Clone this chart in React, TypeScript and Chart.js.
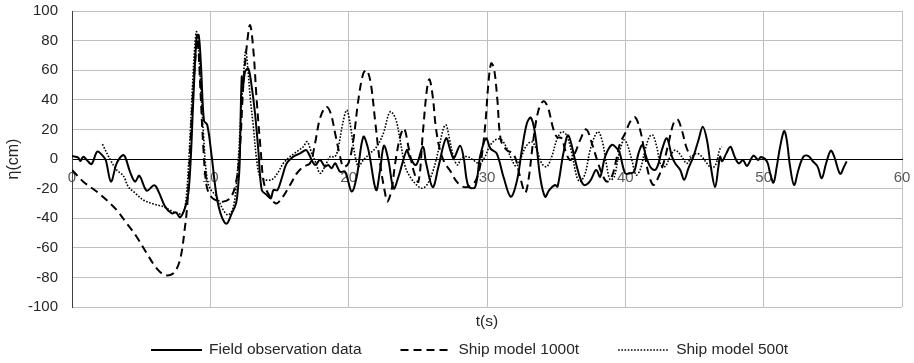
import React, { useEffect, useRef } from 'react';
import { Chart, registerables } from 'chart.js';

Chart.register(...registerables);

// ---- Data ----
const fieldT = [0, 0.45, 0.6, 0.82, 1.1, 1.42, 1.83, 2.27, 2.45, 2.82, 3.23, 3.7, 3.9, 4.19, 4.56, 4.87, 5.4, 5.95, 6.29, 6.72, 7.21, 7.52, 7.81, 8.17, 8.41, 8.58, 8.77, 9.01, 9.16, 9.33, 9.54, 9.78, 10.1, 10.46, 10.82, 11.18, 11.55, 11.86, 12.03, 12.12, 12.27, 12.39, 12.51, 12.75, 12.99, 13.23, 13.47, 13.72, 14.08, 14.37, 14.56, 14.85, 15.16, 15.52, 16.0, 16.49, 16.92, 17.1, 17.57, 17.93, 18.29, 18.53, 18.77, 19.02, 19.38, 19.74, 20.22, 20.58, 21.06, 21.43, 21.98, 22.27, 22.55, 22.87, 23.25, 23.6, 24.2, 24.4, 24.87, 25.36, 25.6, 26.08, 26.49, 27.04, 27.38, 27.6, 28.05, 28.3, 28.66, 29.14, 29.5, 29.93, 30.25, 30.7, 31.19, 31.72, 32.15, 32.52, 32.88, 33.17, 33.48, 33.84, 34.2, 34.5, 34.92, 35.1, 35.52, 35.87, 36.37, 36.73, 37.02, 37.45, 37.89, 38.18, 38.54, 39.02, 39.4, 39.6, 39.99, 40.35, 40.64, 40.95, 41.24, 41.5, 41.8, 42.15, 42.4, 42.64, 43.0, 43.37, 43.6, 43.97, 44.25, 44.56, 44.92, 45.29, 45.6, 45.9, 46.18, 46.49, 46.73, 46.85, 47.0, 47.3, 47.6, 47.9, 48.2, 48.5, 48.8, 49.26, 49.6, 49.8, 50.23, 50.47, 50.71, 50.95, 51.19, 51.48, 51.67, 51.91, 52.2, 52.51, 52.88, 53.24, 53.55, 53.89, 54.2, 54.51, 54.85, 55.1, 55.53, 55.82, 56.0];
const fieldV = [2, 1, -1.4, 1.6, -1, -3.4, 5, 1.6, -1, -15.3, -2.9, 2.7, 0, -8.6, -15.3, -11.3, -21.4, -17.8, -22.7, -32, -36.7, -36, -39.4, -33, -23, -0.7, 40, 82.6, 83.8, 62, 26, 23, 1.6, -25.5, -39, -43.7, -36.7, -30, -16.4, -3, 55.6, 51, 59, 61, 48.9, 30.9, 6, -21, -24.3, -26.6, -21, -21, -13, -2.9, 1.6, 3.8, 6, 3.8, -4, -0.7, -5.2, -4, -6.3, -2.9, -8.6, -8.6, -22, -12, 15, 6, -21, -7.4, 9, -0.7, -20, -12, 6, 1.6, -4, 8.3, -2.9, -19, -5.2, 14, 5, 0.6, 9, 1.6, -18.7, -19, 1.6, 14, 7, 3.8, -12, -25.5, -15.3, 6, 24, 28, 17, -12, -25.5, -21, -17.6, -18.7, 3.8, 16, -0.7, -12.8, -17.6, -15, -7.4, -12, 1.6, 9.5, 7, 3.8, -9.7, -9.7, -8.6, 3.8, 9.5, 1.6, -5.2, -7.4, -3, 6, 14, 1.6, -2.9, -7.4, -14, -6.3, 1.6, 12.8, 21.8, 12.8, -5.2, -19, -5.2, 1.6, -1.5, 3.8, 8.3, 1.6, -3, -0.7, -4.7, 2.3, -0.7, 1.3, -1.5, -9.7, -16, -5, 8.3, 18.9, 12.8, -5.2, -17.6, -7.4, 1.6, 2, -1.5, -5, -13, -3, 5.6, 1.6, -10, -5, -1.6];

const ship1000T = [0, 0.82, 1.78, 2.5, 3.23, 3.95, 4.67, 5.4, 6.12, 6.72, 7.33, 7.81, 8.17, 8.34, 8.53, 8.72, 8.97, 9.09, 9.26, 9.5, 9.74, 10.1, 10.46, 10.94, 11.42, 11.79, 12.1, 12.39, 12.63, 12.87, 13.11, 13.35, 13.64, 13.88, 14.32, 14.75, 15.16, 15.76, 16.25, 16.72, 17.21, 17.57, 17.93, 18.37, 18.7, 19.02, 19.38, 19.62, 19.98, 20.34, 20.7, 21.06, 21.31, 21.6, 21.91, 22.27, 22.63, 22.8, 23.1, 23.36, 23.72, 24.0, 24.32, 24.68, 25.04, 25.36, 25.65, 25.84, 26.08, 26.3, 26.6, 26.96, 27.3, 27.81, 28.24, 28.66, 29.14, 29.5, 29.86, 30.1, 30.3, 30.51, 30.75, 31.0, 31.43, 31.86, 32.1, 32.39, 32.76, 33.0, 33.35, 33.72, 34.08, 34.4, 34.75, 35.04, 35.4, 35.65, 36.0, 36.35, 36.73, 37.17, 37.6, 37.96, 38.3, 38.66, 39.02, 39.34, 39.62, 39.99, 40.35, 40.71, 41.07, 41.36, 41.67, 42.03, 42.4, 42.76, 43.12, 43.48, 43.77, 44.08, 44.4, 44.7];
const ship1000V = [-7.4, -15.3, -22, -27.7, -34.5, -43.4, -52.5, -63.7, -73.9, -78.4, -77.2, -68, -45.7, -30, 3.8, 40, 73.6, 81, 51, 7, -18.7, -26, -28, -28.8, -26.6, -18.7, 1.6, 51, 75.9, 90.5, 73.6, 40, 6, -16.4, -25.5, -30, -26.6, -17.6, -9.7, -5.2, -2.9, 10.6, 27.5, 35.3, 30.9, 17.4, 1.6, -5.2, -2.9, 12.8, 40, 57.9, 60, 51, 26, -3, -23, -28.8, -21, -3, 15, 20.7, 8.3, -7.4, -15.3, 17.4, 46.6, 53.8, 42, 21.5, 6, -3, -7.4, -15.3, -18.7, -18.7, -15.3, -5, 21.8, 51, 64.6, 61, 40, 12.8, 6, 3.8, -0.7, -12, -22.7, -14, 12.8, 33, 39, 35, 21.8, 15, 14, 6, -0.7, 3.8, 12.8, 20, 10, -0.7, -9.7, -15.3, -12, -0.7, 10.6, 17.4, 25.2, 28.2, 19.6, 6, -9.7, -17.6, -12, -2.9, 10.6, 24, 26.8, 19.6, 8.3, 1.6];

const ship500T = [2.2, 2.74, 3.23, 3.71, 4.07, 4.56, 5.16, 5.88, 6.6, 7.09, 7.57, 8.0, 8.24, 8.48, 8.72, 8.89, 9.01, 9.16, 9.33, 9.5, 9.74, 9.98, 10.46, 10.94, 11.3, 11.67, 11.95, 12.2, 12.39, 12.56, 12.7, 12.9, 13.11, 13.35, 13.59, 13.96, 14.44, 14.85, 15.28, 15.76, 16.25, 16.72, 17.0, 17.33, 17.64, 17.93, 18.29, 18.66, 19.02, 19.26, 19.57, 19.86, 20.1, 20.39, 20.7, 21.06, 21.55, 22.03, 22.51, 22.87, 23.05, 23.4, 23.72, 24.08, 24.44, 24.92, 25.28, 25.65, 26.12, 26.49, 26.85, 27.04, 27.28, 27.57, 27.86, 28.17, 28.58, 29.0, 29.45, 29.86, 30.17, 30.59, 31.0, 31.38, 31.75, 32.1, 32.39, 32.8, 33.24, 33.6, 33.96, 34.32, 34.68, 35.04, 35.4, 35.76, 36.13, 36.49, 36.73, 37.1, 37.45, 37.82, 38.06, 38.37, 38.66, 38.9, 39.2, 39.5, 39.87, 40.11, 40.47, 40.78, 41.07, 41.43, 41.74, 41.98, 42.27, 42.56, 42.88, 43.24, 43.6, 44.08, 44.44, 44.8, 45.17, 45.53, 45.9, 46.26, 46.57, 46.8, 46.97];
const ship500V = [10, 0, -7.4, -11.3, -18.7, -23, -27.7, -30.4, -32.2, -34.5, -36.7, -36.7, -27.7, 6, 51, 78, 86, 72.5, 44.4, 17.4, -12, -20, -25.5, -34.5, -37.8, -32.2, -9.7, 28.6, 55.6, 73.6, 62, 40, 21.8, -0.7, -12, -14, -14, -9.7, -2.9, 1.6, 5, 8.3, 11.7, 3.8, -2.9, -9.7, -5, 1.6, 1.6, 8.3, 24, 33, 24, 6, -5, -0.7, 3.8, 8.3, 17.4, 29.7, 32, 27, 12.8, -5, -12, -17.6, -19.8, -17.6, -7.4, 6, 20.7, 23, 14, 1.6, -4, 0.6, 1.6, -0.7, -3, 1.6, 8.3, 12.8, 13.3, 8.3, 0.4, -5, -0.7, 8.3, 11.7, 6, -3, -5.2, 1.6, 12.8, 18.4, 16, 3.8, -12, -15.3, -9.7, 6, 16, 18.4, 10.6, -5, -14, -12, 1.6, 12.8, 10.6, -0.7, -10.8, -7.4, 6, 15, 16.2, 8.3, -4, -5, 1.6, 6, 1.6, -3, 1.6, 3.8, 1.6, -3, -6.3, -3, 6, 8.3];

const seriesNames = ['Field observation data', 'Ship model 1000t', 'Ship model 500t'];
const xMin = 0;
const xMax = 60;
const xStep = 10;
const yMin = -100;
const yMax = 100;
const yStep = 20;

const FONT = '"Liberation Sans", Arial, Helvetica, sans-serif';
const HIDDEN = 'rgba(0,0,0,0)';

function toPoints(t: number[], v: number[]) {
  return t.map((x, i) => ({ x, y: v[i] }));
}

const customLegend = {
  id: 'customLegend',
  afterDraw(chart: any) {
    const ctx = chart.ctx;
    ctx.save();
    ctx.font = `15.5px ${FONT}`;
    ctx.textBaseline = 'middle';
    ctx.textAlign = 'left';
    let x = 151;
    const y = 350;
    const lineLen = 51;
    chart.data.datasets.forEach((ds: any) => {
      ctx.beginPath();
      ctx.setLineDash(ds.borderDash || []);
      ctx.lineWidth = ds.borderWidth;
      ctx.strokeStyle = ds.borderColor;
      ctx.moveTo(x, y);
      ctx.lineTo(x + lineLen, y);
      ctx.stroke();
      ctx.setLineDash([]);
      const tx = x + lineLen + 7;
      ctx.fillStyle = '#262626';
      ctx.fillText(ds.label, tx, y);
      x = tx + ctx.measureText(ds.label).width + 39;
    });
    ctx.restore();
  },
};

export default function App() {
  const canvasRef = useRef<HTMLCanvasElement | null>(null);

  useEffect(() => {
    if (!canvasRef.current) return;
    const chart = new Chart(canvasRef.current, {
      type: 'line',
      data: {
        datasets: [
          {
            label: seriesNames[0],
            data: toPoints(fieldT, fieldV),
            borderColor: '#000000',
            borderWidth: 2,
            xAxisID: 'x',
            yAxisID: 'y',
          },
          {
            label: seriesNames[1],
            data: toPoints(ship1000T, ship1000V),
            borderColor: '#000000',
            borderWidth: 2,
            borderDash: [8, 5],
            xAxisID: 'x',
            yAxisID: 'y',
          },
          {
            label: seriesNames[2],
            data: toPoints(ship500T, ship500V),
            borderColor: '#000000',
            borderWidth: 1.6,
            borderDash: [1.6, 1.6],
            xAxisID: 'x',
            yAxisID: 'y',
          },
        ],
      },
      options: {
        animation: false,
        responsive: false,
        devicePixelRatio: 1,
        layout: { padding: { top: 11, right: 12, left: 0, bottom: 0 } },
        elements: {
          point: { radius: 0, hoverRadius: 0 },
          line: { tension: 0.35, fill: false, borderCapStyle: 'butt', borderJoinStyle: 'round' },
        },
        plugins: {
          legend: { display: false },
          tooltip: { enabled: false },
        },
        scales: {
          x: {
            type: 'linear',
            position: { y: 0 } as any,
            min: xMin,
            max: xMax,
            ticks: {
              stepSize: xStep,
              padding: 0,
              maxRotation: 0,
              color: '#595959',
              font: { family: FONT, size: 15 },
            },
            grid: {
              color: (c: any) => (c.tick && c.tick.value === 0 ? '#404040' : '#bfbfbf'),
              lineWidth: 1,
              drawTicks: true,
              tickLength: 10,
              tickColor: HIDDEN,
            },
            border: { color: '#000000', width: 1 },
          },
          x2: {
            type: 'linear',
            axis: 'x',
            position: 'bottom',
            min: xMin,
            max: xMax,
            ticks: { display: false, padding: 0 },
            grid: { display: false, drawTicks: false },
            border: { display: false },
            title: {
              display: true,
              text: 't(s)',
              color: '#262626',
              font: { family: FONT, size: 15.5 },
              padding: { top: 0, bottom: 32 },
            },
            afterFit: (s: any) => {
              s.height = 56;
            },
          },
          y: {
            type: 'linear',
            position: 'left',
            min: yMin,
            max: yMax,
            ticks: {
              stepSize: yStep,
              padding: 0,
              color: '#262626',
              font: { family: FONT, size: 15 },
            },
            grid: {
              color: (c: any) => (c.tick && c.tick.value === 0 ? '#000000' : '#bfbfbf'),
              lineWidth: 1,
              drawTicks: true,
              tickLength: 14,
              tickColor: HIDDEN,
            },
            border: { color: '#404040', width: 1 },
            title: {
              display: true,
              text: 'η(cm)',
              color: '#262626',
              font: { family: FONT, size: 16 },
              padding: { top: 4, bottom: 0 },
            },
            afterFit: (s: any) => {
              s.width = 72;
            },
          },
        },
      } as any,
      plugins: [customLegend],
    });
    return () => chart.destroy();
  }, []);

  return (
    <div style={{ position: 'absolute', left: 0, top: 0, width: 914, height: 363, background: '#ffffff' }}>
      <canvas ref={canvasRef} width={914} height={363} style={{ display: 'block', width: 914, height: 363 }} />
    </div>
  );
}
